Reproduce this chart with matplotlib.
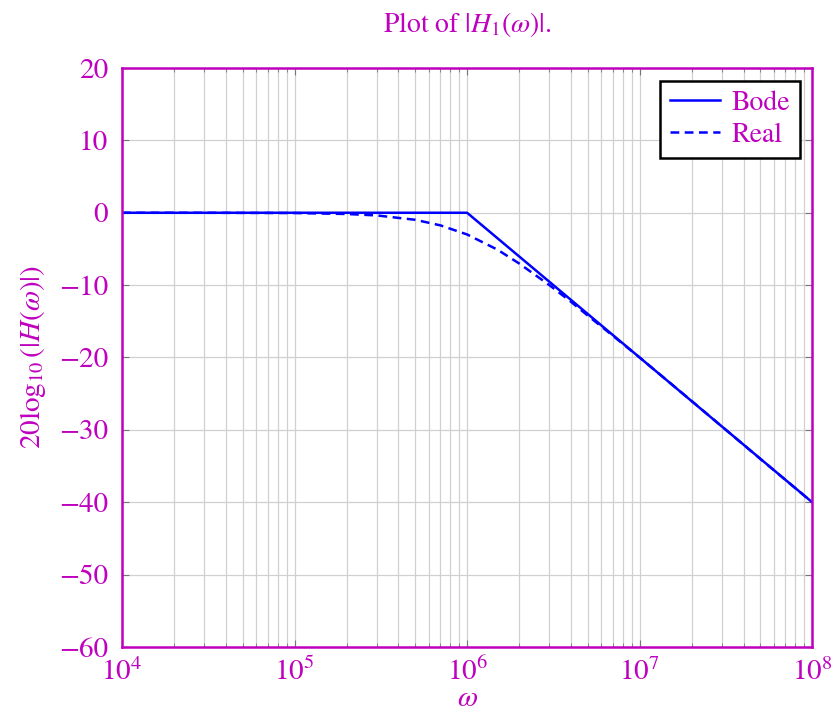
import matplotlib.pyplot as plt
from matplotlib.ticker import LogLocator, NullFormatter

plt.rcParams["font.family"] = ["STIXGeneral", "DejaVu Serif"]
plt.rcParams["mathtext.fontset"] = "stix"

MAG = "#bf00bf"

# Bode asymptote (corner at 1e6)
bode_w = [1e4, 1e6, 1e8]
bode_db = [0, 0, -40]

# "Real" response
real_w = [1e4, 3e4, 1e5, 2e5, 3e5, 5e5, 7e5, 1e6, 1.5e6, 2e6, 3e6, 4e6,
          5e6, 7e6, 1e7, 2e7, 5e7, 1e8]
real_db = [0, -0.004, -0.04, -0.17, -0.37, -0.97, -1.74, -3.0, -5.1, -7.0,
           -10.0, -12.3, -14.2, -17.0, -20.0, -26.0, -34.0, -40.0]

fig = plt.figure(figsize=(8.33, 7.13), dpi=100)
ax = fig.add_axes([0.1465, 0.0926, 0.8285, 0.812])

ax.plot(bode_w, bode_db, color="blue", lw=1.8, label="Bode")
ax.plot(real_w, real_db, color="blue", lw=1.8, ls=(0, (3.5, 2.2)), label="Real")

ax.set_xscale("log")
ax.set_xlim(1e4, 1e8)
ax.set_ylim(-60, 20)
ax.set_yticks(range(-60, 21, 10))
ax.xaxis.set_major_locator(LogLocator(base=10, numticks=10))
ax.xaxis.set_minor_locator(LogLocator(base=10, subs=range(2, 10), numticks=20))
ax.xaxis.set_minor_formatter(NullFormatter())

ax.grid(True, which="both", color="#d0d0d0", lw=0.9)
ax.set_axisbelow(True)
ax.tick_params(which="both", direction="in", top=True, right=True,
               colors="#777777", labelcolor=MAG, labelsize=21)
ax.tick_params(which="major", length=5)
ax.tick_params(which="minor", length=3)
ax.tick_params(axis="x", which="major", pad=8)
ax.tick_params(axis="y", which="major", pad=10)
for s in ax.spines.values():
    s.set_color(MAG)
    s.set_linewidth(1.8)

ax.set_xlabel(r"$\omega$", color=MAG, fontsize=21, labelpad=0)
ax.set_ylabel(r"$20\log_{10}(|H(\omega)|)$", color=MAG, fontsize=21, labelpad=8)
ax.set_title(r"Plot of $|H_1(\omega)|$.", color=MAG, fontsize=20, pad=26)

leg = ax.legend(loc="upper right", fontsize=20, frameon=True, fancybox=False,
                framealpha=1, edgecolor="black", handlelength=1.8,
                handletextpad=0.4, borderaxespad=0.45,
                labelspacing=0.25, borderpad=0.35)
leg.get_frame().set_linewidth(1.8)
for t in leg.get_texts():
    t.set_color(MAG)

fig.savefig("out.png", dpi=100)
